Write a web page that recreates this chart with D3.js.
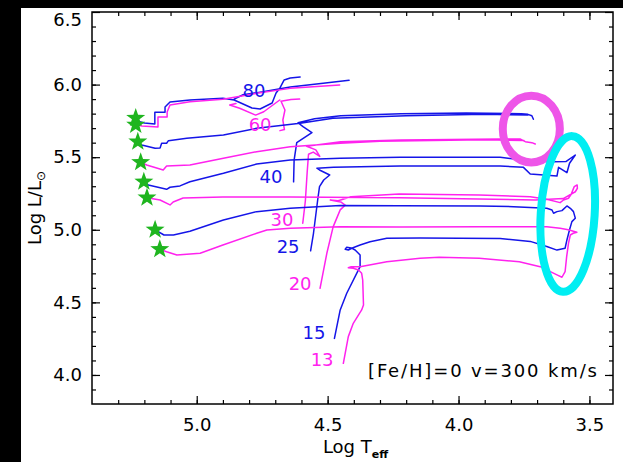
<!DOCTYPE html>
<html>
<head>
<meta charset="utf-8">
<script src="https://cdn.jsdelivr.net/npm/d3@7"></script>
<style>
  html, body { margin: 0; padding: 0; background: #000; }
  svg { display: block; }
</style>
</head>
<body>
<svg id="chart" width="623" height="462"></svg>
<script>
// Evolutionary tracks in the HR diagram, [Fe/H]=0, v_ini = 300 km/s.
// Each track is a list of [log Teff, log L/Lsun]; null splits a track into pieces.
const masses = [80, 60, 40, 30, 25, 20, 15, 13];

const track80 = [
  [4.605, 6.052], [4.643, 6.045], [4.666, 6.032], [4.682, 5.977], [4.697, 5.942], [4.712, 5.873],
  [4.758, 5.832], [4.789, 5.839], [4.857, 5.894], [4.90, 5.906], [5.026, 5.894], [5.102, 5.88],
  [5.121, 5.846], [5.121, 5.81], [5.16, 5.81], [5.16, 5.729], [5.20, 5.735], [5.225, 5.748],
  null,
  [4.857, 5.90], [4.823, 5.93], [4.747, 5.95], [4.643, 5.983], [4.517, 6.01], [4.418, 6.03]
];
const track60 = [
  [4.682, 5.683], [4.665, 5.69], [4.671, 5.756], [4.663, 5.825], [4.678, 5.885], [4.64, 5.897], [4.607, 5.90],
  null,
  [4.683, 5.894], [4.744, 5.813], [4.775, 5.79], [4.836, 5.837], [4.874, 5.86], [4.85, 5.87],
  null,
  [4.454, 5.997], [4.643, 5.974], [4.771, 5.94], [4.90, 5.899], [5.026, 5.882], [5.102, 5.86],
  [5.113, 5.811], [5.113, 5.777], [5.148, 5.777], [5.148, 5.708], [5.209, 5.715], [5.23, 5.722]
];
const track40 = [
  [4.63, 5.33], [4.628, 5.48], [4.618, 5.60], [4.56, 5.67], [4.594, 5.71], [4.613, 5.737],
  [4.55, 5.765], [4.45, 5.785], [4.22, 5.80], [3.97, 5.805], [3.76, 5.80], [3.735, 5.795],
  [3.72, 5.785], [3.714, 5.761],
  null,
  [3.735, 5.79], [3.90, 5.795], [4.20, 5.785], [4.48, 5.768], [4.605, 5.733], [4.771, 5.699],
  [4.898, 5.653], [5.038, 5.63], [5.108, 5.614], [5.115, 5.596], [5.134, 5.596], [5.14, 5.563],
  [5.159, 5.561], [5.21, 5.584], [5.225, 5.607]
];
const track30 = [
  [4.595, 5.045], [4.585, 5.20], [4.578, 5.40], [4.573, 5.52], [4.555, 5.535], [4.53, 5.505],
  [4.545, 5.55], [4.58, 5.575], [4.45, 5.607], [4.22, 5.618], [3.84, 5.625], [3.765, 5.625],
  [3.745, 5.607], [3.72, 5.60], [3.707, 5.591],
  null,
  [3.75, 5.615], [3.90, 5.62], [4.30, 5.61], [4.452, 5.596], [4.643, 5.572], [4.771, 5.538],
  [4.898, 5.492], [5.026, 5.446], [5.115, 5.44], [5.128, 5.412], [5.191, 5.446], [5.214, 5.465]
];
const track25 = [
  [4.565, 4.855], [4.554, 4.976], [4.538, 5.205], [4.531, 5.297], [4.515, 5.343], [4.492, 5.377],
  [4.531, 5.412], [4.541, 5.424], [4.478, 5.43], [4.223, 5.439], [3.841, 5.439], [3.752, 5.43],
  [3.726, 5.384], [3.624, 5.37], [3.618, 5.43], [3.586, 5.393], [3.576, 5.458], [3.554, 5.515],
  [3.59, 5.47], [3.638, 5.469], [3.715, 5.476], [3.777, 5.486], [3.841, 5.499], [4.223, 5.499],
  [4.452, 5.492], [4.643, 5.481], [4.771, 5.453], [4.898, 5.389], [5.026, 5.331], [5.064, 5.302],
  [5.102, 5.293], [5.115, 5.279], [5.185, 5.309], [5.202, 5.331]
];
const track20 = [
  [4.529, 4.597], [4.503, 4.838], [4.479, 5.02], [4.452, 5.137], [4.433, 5.17], [4.45, 5.192],
  [4.49, 5.205], [4.46, 5.20], [4.41, 5.228], [4.227, 5.247], [3.921, 5.24], [3.726, 5.228],
  [3.663, 5.21], [3.612, 5.187], [3.599, 5.205], [3.58, 5.217], [3.571, 5.24], [3.558, 5.297],
  [3.547, 5.309], [3.546, 5.286], [3.554, 5.262], [3.60, 5.215], [3.707, 5.205], [4.227, 5.22],
  [4.643, 5.226], [4.90, 5.226], [5.052, 5.219], [5.09, 5.191], [5.102, 5.171], [5.14, 5.205],
  [5.19, 5.221]
];
const track15 = [
  [4.474, 4.252], [4.452, 4.448], [4.427, 4.563], [4.389, 4.70], [4.376, 4.746], [4.376, 4.826],
  [4.395, 4.861], [4.41, 4.875], [4.427, 4.879], [4.433, 4.866], [4.421, 4.861], [4.408, 4.873],
  [4.376, 4.895], [4.338, 4.918], [4.274, 4.941], [4.147, 4.944], [3.841, 4.94], [3.726, 4.92],
  [3.663, 4.885], [3.624, 4.86], [3.593, 4.873], [3.586, 4.93], [3.576, 5.0], [3.567, 5.056],
  [3.554, 5.08], [3.561, 5.125], [3.573, 5.148], [3.586, 5.164], [3.605, 5.132], [3.624, 5.125],
  [3.637, 5.114], [3.643, 5.136], [3.663, 5.148], [3.79, 5.159], [3.917, 5.164], [4.227, 5.165],
  [4.452, 5.168], [4.643, 5.148], [4.771, 5.125], [4.898, 5.067], [5.026, 4.99], [5.089, 4.964],
  [5.125, 4.964], [5.159, 5.0]
];
const track13 = [
  [4.44, 4.08], [4.421, 4.264], [4.402, 4.356], [4.37, 4.448], [4.363, 4.482], [4.366, 4.654],
  [4.37, 4.70], [4.382, 4.723], [4.402, 4.735], [4.421, 4.739], [4.41, 4.745], [4.376, 4.746],
  [4.274, 4.78], [4.147, 4.804], [4.074, 4.81], [3.921, 4.804], [3.768, 4.78], [3.688, 4.746],
  [3.624, 4.689], [3.605, 4.673], [3.593, 4.711], [3.587, 4.815], [3.58, 4.907], [3.573, 4.964],
  [3.562, 4.976], [3.548, 4.983], [3.581, 5.0], [3.612, 5.01], [3.663, 5.021], [3.917, 5.021],
  [4.227, 5.019], [4.452, 5.021], [4.643, 5.01], [4.732, 4.999], [4.771, 4.976], [4.90, 4.895],
  [4.987, 4.838], [5.076, 4.826], [5.115, 4.849], [5.141, 4.866]
];

// Mass labels, placed beside the start of each track
const labelLogT = [4.781, 4.758, 4.716, 4.674, 4.651, 4.605, 4.552, 4.521];
const labelLogL = [5.956, 5.722, 5.364, 5.074, 4.888, 4.627, 4.289, 4.103];

// End points of the tracks (stars)
const finalLogT = [5.233, 5.233, 5.225, 5.214, 5.202, 5.19, 5.159, 5.141];
const finalLogL = [5.77, 5.722, 5.607, 5.465, 5.331, 5.221, 5.00, 4.866];

// Highlighted regions: yellow supergiant endings and red supergiant endings
const ringNames = ["ysg", "rsg"];
const ringLogT = [3.722, 3.583];
const ringLogL = [5.694, 5.109];
const ringHalfT = [0.109, 0.103];
const ringHalfL = [0.23, 0.537];

// Axis ticks
const xMajorTicks = [5.0, 4.5, 4.0, 3.5];
const xMinorTicks = d3.range(35, 54).map(d => d / 10);
const yMajorTicks = [4.0, 4.5, 5.0, 5.5, 6.0, 6.5];
const yMinorTicks = d3.range(39, 65).map(d => d / 10);

const tracks = [track80, track60, track40, track30, track25, track20, track15, track13];

// ---------- drawing ----------
const W = 623, H = 462;
const BLUE = "#1515e8", MAGENTA = "#ff22ee";
const FONT = "'DejaVu Sans', sans-serif";

const svg = d3.select("#chart");
svg.append("rect").attr("width", W).attr("height", H).attr("fill", "#000");
svg.append("rect").attr("x", 21).attr("y", 8).attr("width", W - 21).attr("height", H - 8).attr("fill", "#fff");

const x = d3.scaleLinear().domain([5.4, 3.41]).range([92, 613]);
const y = d3.scaleLinear().domain([3.8, 6.5]).range([404, 12]);
const [x0, x1] = x.range();
const [y0, y1] = y.range();

// tracks
const line = d3.line()
  .defined(d => d !== null)
  .x(d => x(d[0]))
  .y(d => y(d[1]));

const gTracks = svg.append("g");
tracks.forEach((t, i) => {
  gTracks.append("path")
    .attr("d", line(t))
    .attr("fill", "none")
    .attr("stroke", i % 2 === 0 ? BLUE : MAGENTA)
    .attr("stroke-width", 1.5)
    .attr("stroke-linejoin", "round")
    .attr("stroke-linecap", "round");
});

// mass labels
svg.append("g").selectAll("text")
  .data(masses)
  .join("text")
  .attr("x", (d, i) => x(labelLogT[i]))
  .attr("y", (d, i) => y(labelLogL[i]))
  .attr("dy", "0.36em")
  .attr("text-anchor", "middle")
  .attr("font-family", FONT)
  .attr("font-size", 18)
  .attr("fill", (d, i) => i % 2 === 0 ? BLUE : MAGENTA)
  .text(d => d);

// rings
const ringColors = ["#ee55e8", "#00eef2"];
const ringTilt = [0, 3.5];
svg.append("g").selectAll("ellipse")
  .data(ringNames)
  .join("ellipse")
  .attr("transform", (d, i) => `translate(${x(ringLogT[i])},${y(ringLogL[i])}) rotate(${ringTilt[i]})`)
  .attr("rx", (d, i) => Math.abs(x(ringLogT[i] - ringHalfT[i]) - x(ringLogT[i])))
  .attr("ry", (d, i) => Math.abs(y(ringLogL[i] + ringHalfL[i]) - y(ringLogL[i])))
  .attr("fill", "none")
  .attr("stroke", (d, i) => ringColors[i])
  .attr("stroke-width", 8);

// stars at the end of the tracks
function starPath(R, r) {
  const pts = [];
  for (let k = 0; k < 10; k++) {
    const a = -Math.PI / 2 + k * Math.PI / 5;
    const rad = k % 2 === 0 ? R : r;
    pts.push([rad * Math.cos(a), rad * Math.sin(a)]);
  }
  return "M" + pts.map(p => p[0].toFixed(2) + "," + p[1].toFixed(2)).join("L") + "Z";
}
svg.append("g").selectAll("path")
  .data(finalLogT)
  .join("path")
  .attr("d", starPath(10, 4))
  .attr("transform", (d, i) => `translate(${x(d)},${y(finalLogL[i])})`)
  .attr("fill", "#1fb51f");

// axes: inward ticks on all four sides
function addAxis(axisFn, scale, values, size, tx, ty, labelled) {
  const ax = axisFn(scale)
    .tickValues(values)
    .tickSizeInner(-size)
    .tickSizeOuter(0)
    .tickPadding(labelled ? 14 : 0)
    .tickFormat(labelled ? d3.format(".1f") : "");
  const g = svg.append("g").attr("transform", `translate(${tx},${ty})`).call(ax);
  g.select(".domain").remove();
  g.selectAll(".tick line").attr("stroke", "#000").attr("stroke-width", 1.2);
  g.selectAll("text").attr("font-family", FONT).attr("font-size", 18).attr("fill", "#000");
  return g;
}
addAxis(d3.axisBottom, x, xMinorTicks, 4, 0, y0, false);
addAxis(d3.axisBottom, x, xMajorTicks, 8, 0, y0, true);
addAxis(d3.axisTop, x, xMinorTicks, 4, 0, y1, false);
addAxis(d3.axisTop, x, xMajorTicks, 8, 0, y1, false);
addAxis(d3.axisRight, y, yMinorTicks, 4, x1, 0, false);
addAxis(d3.axisRight, y, yMajorTicks, 8, x1, 0, false);
addAxis(d3.axisLeft, y, yMinorTicks, 4, x0, 0, false);
const yAxisG = addAxis(d3.axisLeft, y, yMajorTicks, 8, x0, 0, true);
yAxisG.selectAll("text").attr("x", -10);
yAxisG.selectAll(".tick").filter(d => d === 6.5).select("text").attr("dy", "0.75em");

// frame
svg.append("rect")
  .attr("x", x0).attr("y", y1)
  .attr("width", x1 - x0).attr("height", y0 - y1)
  .attr("fill", "none").attr("stroke", "#000").attr("stroke-width", 1.5);

// axis titles
const xt = svg.append("text")
  .attr("x", (x0 + x1) / 2 + 3).attr("y", 453)
  .attr("text-anchor", "middle")
  .attr("font-family", FONT).attr("font-size", 18).attr("fill", "#000");
xt.append("tspan").text("Log T");
xt.append("tspan").attr("dy", 5).attr("font-size", 11).attr("font-weight", "bold").text("eff");

const yt = svg.append("text")
  .attr("transform", `translate(41,${(y0 + y1) / 2}) rotate(-90)`)
  .attr("text-anchor", "middle")
  .attr("font-family", FONT).attr("font-size", 18).attr("fill", "#000");
yt.append("tspan").text("Log L/L");
yt.append("tspan").attr("dy", 4).attr("font-size", 12).text("\u2299");

// model annotation
svg.append("text")
  .attr("x", 368).attr("y", 377)
  .attr("textLength", 229).attr("lengthAdjust", "spacing")
  .attr("font-family", FONT).attr("font-size", 18).attr("fill", "#000")
  .text("[Fe/H]=0 v=300 km/s");
</script>
</body>
</html>
